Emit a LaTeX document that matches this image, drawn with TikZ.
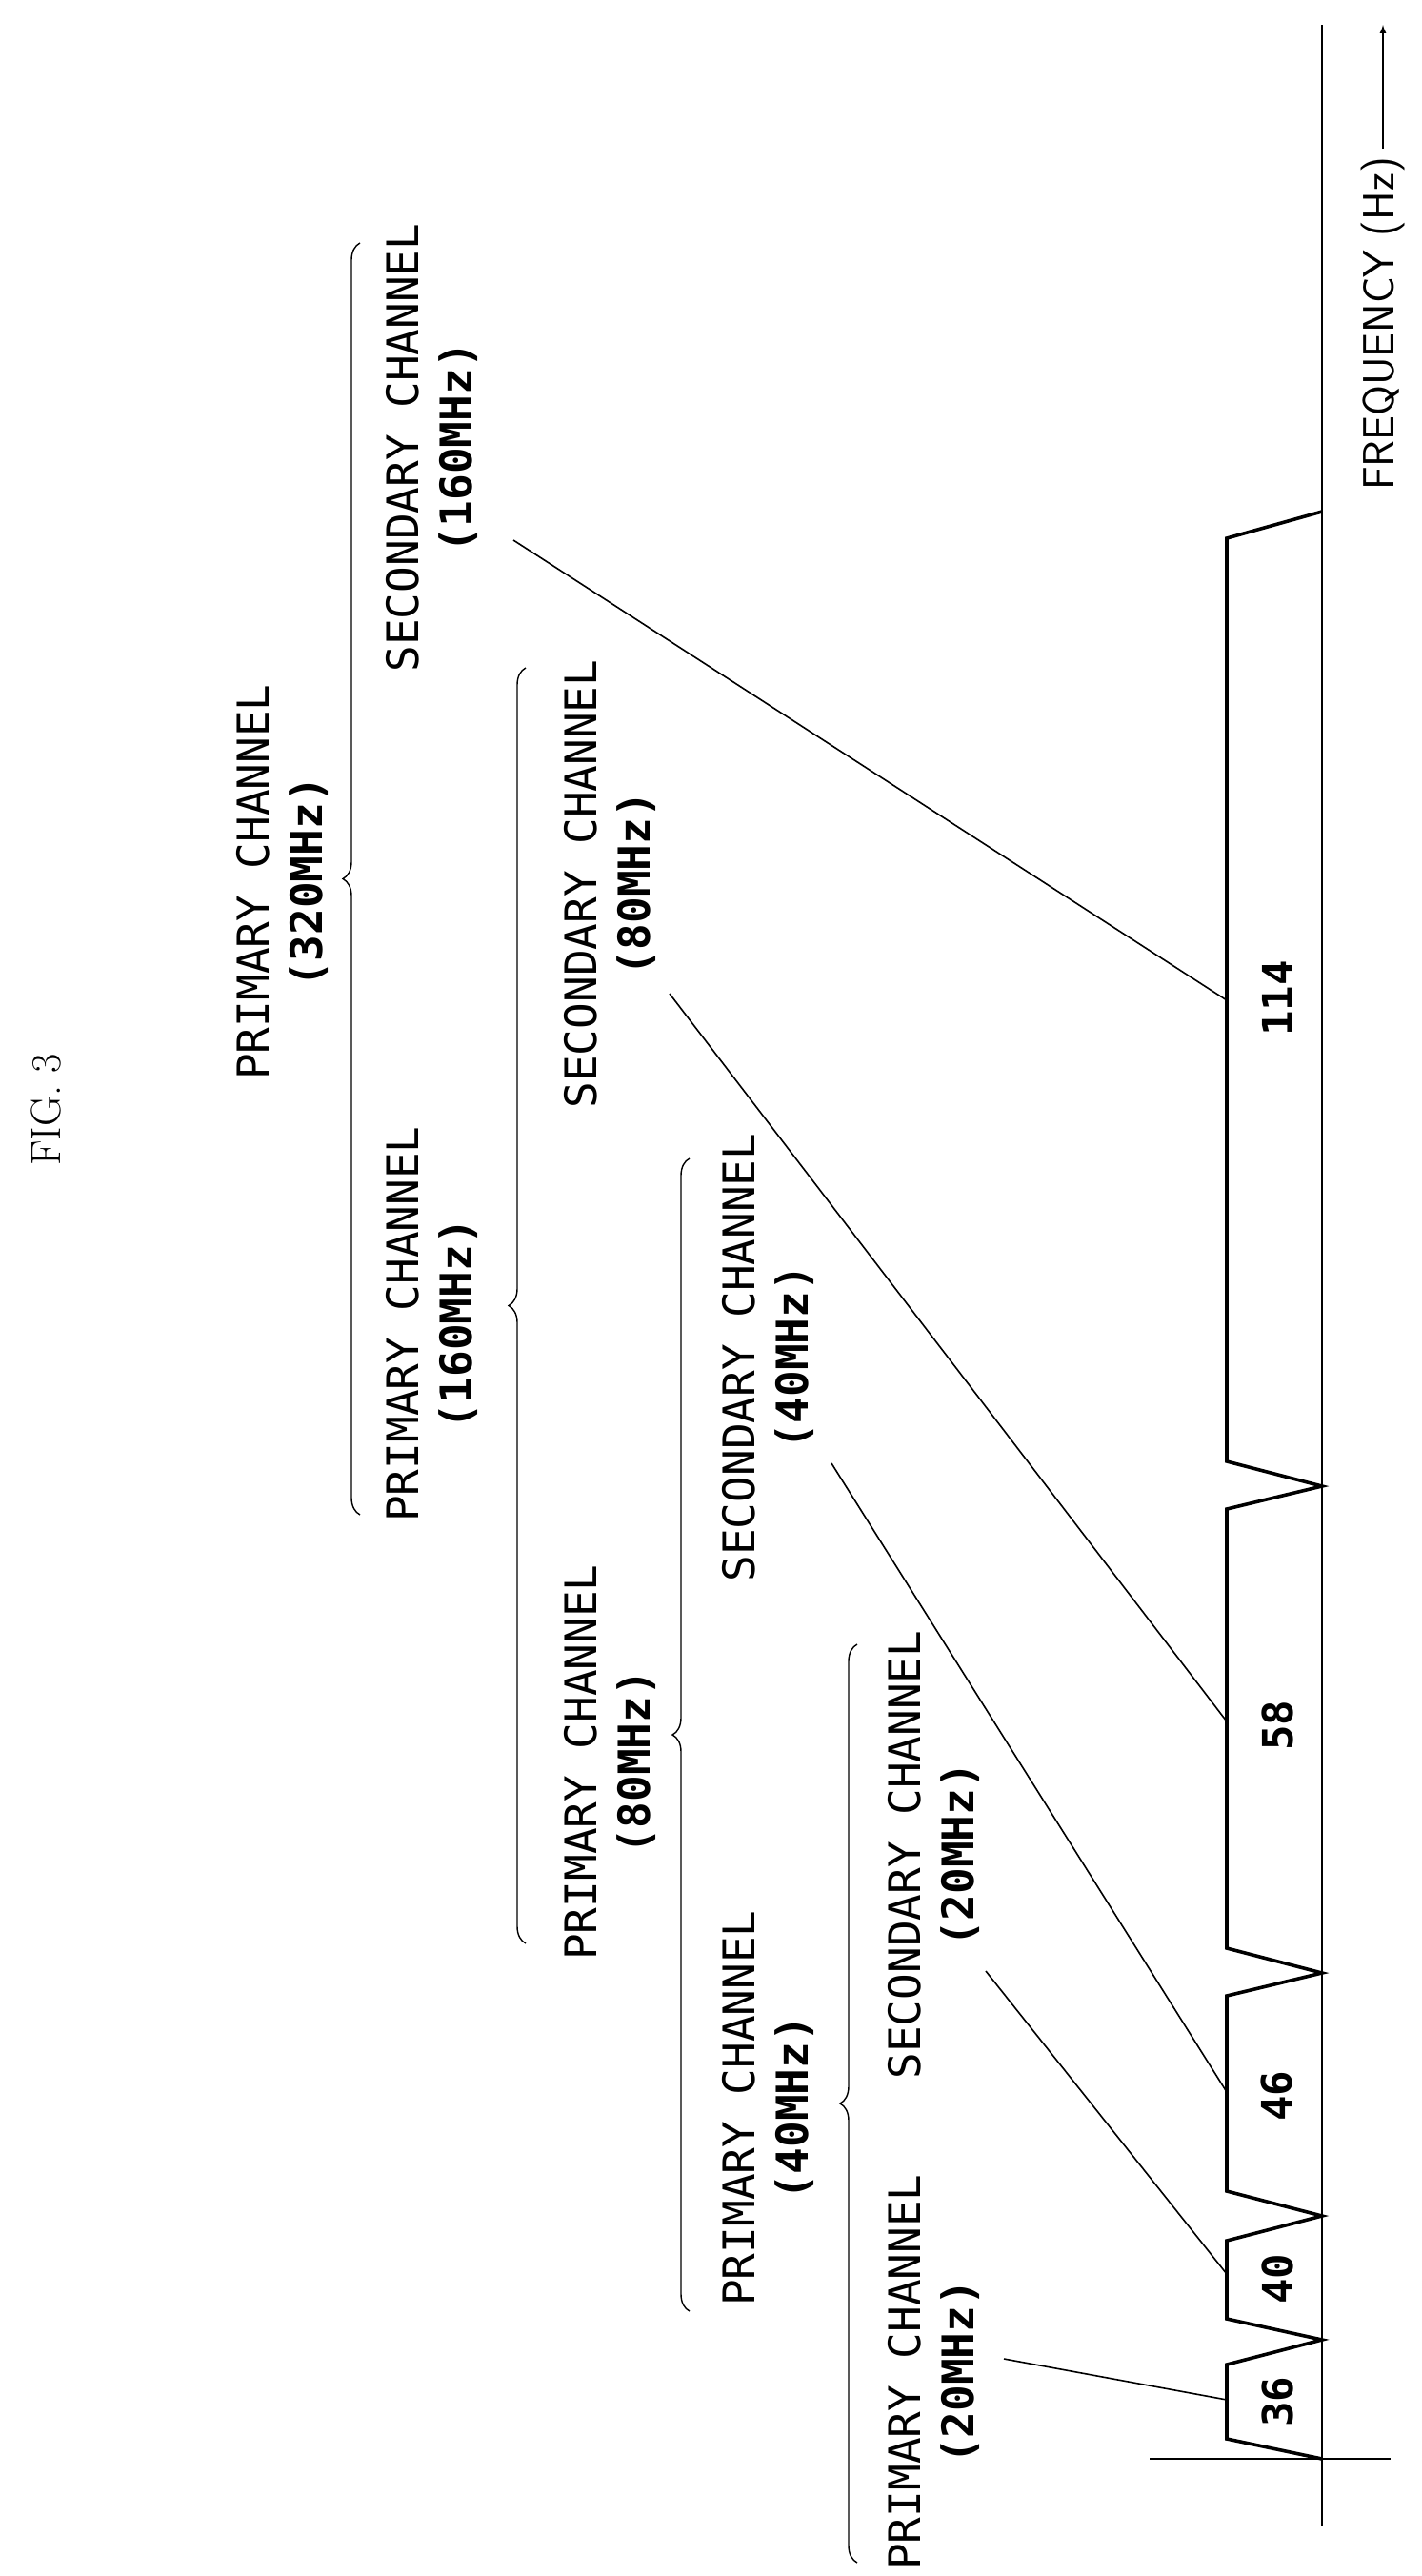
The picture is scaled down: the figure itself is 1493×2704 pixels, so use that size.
\documentclass[tikz,border=0pt]{standalone}
\usepackage{fontspec}
\setmonofont{DejaVu Sans Mono}
\usetikzlibrary{arrows,decorations.pathreplacing}

\begin{document}
\begin{tikzpicture}[x=1pt,y=-1pt,>=latex,line join=miter,
                    chan/.style={rotate=90,align=center,font=\fontsize{46}{56}\selectfont\ttfamily},
                    num/.style={rotate=90,font=\fontsize{44}{50}\selectfont\ttfamily\bfseries},
                    lead/.style={line width=1.6pt},
                    brc/.style={line width=1.4pt,decorate,decoration={brace,amplitude=18pt}}]
  \useasboundingbox (0,0) rectangle (1493,2704);
  \node[rotate=90,font=\fontsize{44}{50}\selectfont\rmfamily] (fig) at (48,1165) {FIG. 3};

  % axis
  \draw[line width=2.4pt] (1388,26) -- (1388,2651);
  \draw[line width=2pt] (1207,2581) -- (1460,2581);
  \draw[->,line width=2pt] (1452,156) -- (1452,26);
  \node[rotate=90,font=\fontsize{46}{56}\selectfont\sffamily] (freq) at (1452,340) {FREQUENCY (Hz)};

  % channel blocks
  \draw[line width=3.6pt] (1388,2581) -- (1288,2560) -- (1288,2482) -- (1388,2456)
        -- (1288,2434) -- (1288,2352) -- (1388,2326) -- (1288,2300) -- (1288,2095)
        -- (1388,2071) -- (1288,2045) -- (1288,1584) -- (1388,1560) -- (1288,1534)
        -- (1288,565) -- (1388,537);
  \node[num] (ch36)  at (1341,2521) {36};
  \node[num] (ch40)  at (1341,2392) {40};
  \node[num] (ch46)  at (1341,2200) {46};
  \node[num] (ch58)  at (1341,1811) {58};
  \node[num] (ch114) at (1341,1048) {114};

  % channel texts
  \node[chan] (p320) at (296,926)  {PRIMARY CHANNEL\\\textbf{(320MHz)}};
  \node[chan] (s160) at (453,470)  {SECONDARY CHANNEL\\\textbf{(160MHz)}};
  \node[chan] (p160) at (453,1390) {PRIMARY CHANNEL\\\textbf{(160MHz)}};
  \node[chan] (s80)  at (640,928)  {SECONDARY CHANNEL\\\textbf{(80MHz)}};
  \node[chan] (p80)  at (640,1850) {PRIMARY CHANNEL\\\textbf{(80MHz)}};
  \node[chan] (s40)  at (806,1425) {SECONDARY CHANNEL\\\textbf{(40MHz)}};
  \node[chan] (p40)  at (806,2213) {PRIMARY CHANNEL\\\textbf{(40MHz)}};
  \node[chan] (s20)  at (980,1947) {SECONDARY CHANNEL\\\textbf{(20MHz)}};
  \node[chan] (p20)  at (980,2490) {PRIMARY CHANNEL\\\textbf{(20MHz)}};

  % braces
  \draw[brc] (378,1590) -- (378,255);
  \draw[brc] (552,2040) -- (552,701);
  \draw[brc] (724,2426) -- (724,1216);
  \draw[brc] (900,2690) -- (900,1726);

  % leader lines
  \coordinate (e114) at (1288,1050);
  \coordinate (e58)  at (1288,1807);
  \coordinate (e46)  at (1288,2196);
  \coordinate (e40)  at (1288,2387);
  \coordinate (e36)  at (1288,2519);
  \coordinate (t114) at (539,567);
  \coordinate (t58)  at (703,1043);
  \coordinate (t46)  at (873,1536);
  \coordinate (t40)  at (1035,2069);
  \coordinate (t36)  at (1054,2476);
  \draw[lead] (t114) -- (e114);
  \draw[lead] (t58)  -- (e58);
  \draw[lead] (t46)  -- (e46);
  \draw[lead] (t40)  -- (e40);
  \draw[lead] (t36)  -- (e36);
\end{tikzpicture}
\end{document}
